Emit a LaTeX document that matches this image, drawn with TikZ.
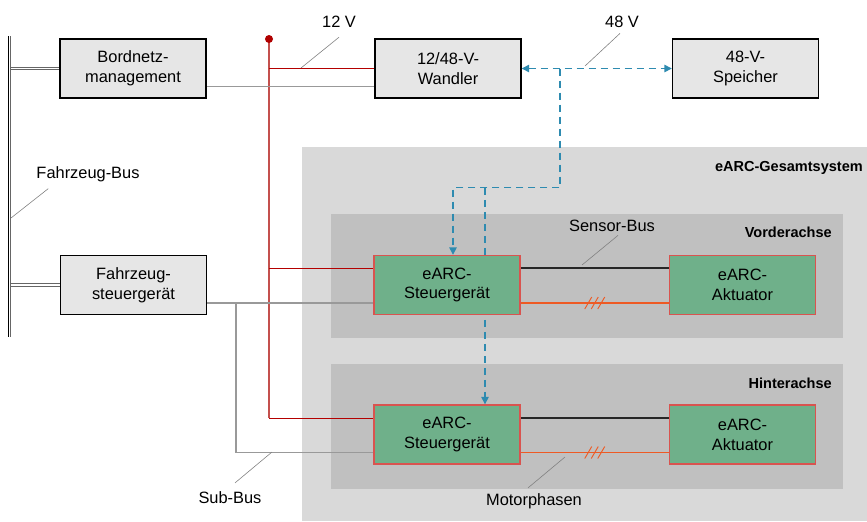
\documentclass[tikz,border=0pt]{standalone}
\usepackage{fontspec}
\setmainfont{Liberation Sans}
\usetikzlibrary{arrows.meta,calc,backgrounds}

\definecolor{boxgray}{HTML}{E6E6E6}
\definecolor{sysgray}{HTML}{D9D9D9}
\definecolor{axlegray}{HTML}{C0C0C0}
\definecolor{ecugreen}{HTML}{6FB08A}
\definecolor{ecured}{HTML}{D9534F}
\definecolor{lvred}{HTML}{C4504D}
\definecolor{lvdark}{HTML}{B40000}
\definecolor{dotred}{HTML}{B00000}
\definecolor{phaseor}{HTML}{EE5A24}
\definecolor{hvblue}{HTML}{2E8BB0}
\definecolor{busgray}{HTML}{999999}
\definecolor{leadgray}{HTML}{808080}

\tikzset{
  box/.style={draw=black, line width=1.2pt, fill=boxgray, minimum width=4.38cm,
    minimum height=1.77cm, inner sep=0pt, align=center,
    font=\fontsize{14}{17}\selectfont},
  ecu/.style={box, draw=ecured, fill=ecugreen},
  lbl/.style={anchor=base, inner sep=0pt, font=\fontsize{14}{17}\selectfont},
  area/.style={anchor=base east, inner sep=0pt, font=\bfseries\fontsize{12.4}{15}\selectfont},
  busa/.style={black, line width=0.7pt},
  busb/.style={black!60, line width=0.7pt},
  subline/.style={busgray, line width=1pt},
  lvline/.style={lvred, line width=1.2pt},
  lvhline/.style={lvdark, line width=0.8pt},
  sensline/.style={black!85, line width=1.1pt},
  phaseline/.style={phaseor, line width=1.1pt},
  hvline/.style={hvblue, line width=1.1pt, dash pattern=on 2.1mm off 1.5mm},
  hvtip/.style={-{Triangle[length=2.2mm,width=2.2mm]}},
  leader/.style={leadgray, line width=0.5pt},
}

\begin{document}
\begin{tikzpicture}[x=0.03cm,y=-0.03cm]
\useasboundingbox (0,0) rectangle (867,521);

% Bordnetz
\node (bnm) at (133,68.5) [box] {Bordnetz-\\management};
\node (wdl) at (448,68.5) [box] {12/48-V-\\Wandler};
\node (spk) at (745.5,68.5) [box] {48-V-\\Speicher};
\node (fsg) at (133.5,285) [box] {Fahrzeug-\\steuergerät};

% eARC
\node (vsg) at (447,285) [ecu] {eARC-\\Steuergerät};
\node (vakt) at (742.5,285) [ecu] {eARC-\\Aktuator};
\node (hsg) at (447,434.5) [ecu] {eARC-\\Steuergerät};
\node (hakt) at (742.5,434.5) [ecu] {eARC-\\Aktuator};

% Beschriftungen
\node (v12) at (339,27) [lbl] {12 V};
\node (v48) at (622,27) [lbl] {48 V};
\node (fbus) at (88,178) [lbl] {Fahrzeug-Bus};
\node (sbus) at (612,231) [lbl] {Sensor-Bus};
\node (mph) at (534,505) [lbl] {Motorphasen};
\node (subbus) at (230,503) [lbl] {Sub-Bus};
\node (gsys) at (863,171) [area] {eARC-Gesamtsystem};
\node (vach) at (832,237) [area] {Vorderachse};
\node (hach) at (832,388) [area] {Hinterachse};

\begin{scope}[on background layer]
% Systemgrenzen
\fill[sysgray] (302,147) rectangle (867,521);
\fill[axlegray] (331,214) rectangle (843,338);
\fill[axlegray] (331,364) rectangle (843,489);

% Fahrzeug-Bus
\coordinate (bustop) at (8,36);
\coordinate (busbot) at (8,337);
\draw[busa] (bustop) -- (busbot);
\draw[busb] ($(bustop)+(2.6,0)$) -- ($(busbot)+(2.6,0)$);
\foreach \n in {bnm,fsg} {
  \draw[busb] ($(\n.west -| busbot)+(2.6,-1.3)$) -- ($(\n.west)+(0,-1.3)$);
  \draw[busb] ($(\n.west -| busbot)+(2.6,1.3)$) -- ($(\n.west)+(0,1.3)$);
}

% 12 V
\coordinate (kl) at (269,39);
\path ($(vsg.west)+(0,-17)$) coordinate (r1);
\path ($(hsg.west)+(0,-16.5)$) coordinate (r2);
\draw[lvline] (kl) -- (r2 -| kl);
\draw[lvhline] (kl |- wdl.west) -- (wdl.west);
\draw[lvhline] (r1 -| kl) -- (r1);
\draw[lvhline] (r2 -| kl) -- (r2);
\fill[dotred] (kl) circle (4);

% Sub-Bus
\coordinate (sb) at (236,303);
\draw[subline] ($(bnm.east)+(0,18)$) -- ($(wdl.west)+(0,18)$);
\draw[subline] ($(fsg.east)+(0,18)$) -- ($(vsg.west)+(0,18)$);
\draw[subline] (sb) |- ($(hsg.west)+(0,18)$);

% Sensor-Bus und Motorphasen
\draw[sensline] ($(vsg.east)+(0,-17)$) -- ($(vakt.west)+(0,-17)$);
\draw[sensline] ($(hsg.east)+(0,-16.5)$) -- ($(hakt.west)+(0,-16.5)$);
\draw[phaseline] ($(vsg.east)+(0,18)$) -- ($(vakt.west)+(0,18)$);
\draw[phaseline] ($(hsg.east)+(0,18)$) -- ($(hakt.west)+(0,18)$);
\path ($(vsg.east)!0.5!(vakt.west)+(0,18)$) coordinate (ph1);
\path ($(hsg.east)!0.5!(hakt.west)+(0,18)$) coordinate (ph2);
\foreach \p in {ph1,ph2}
  \foreach \dx in {-6.5,0,6.5}
    \draw[phaseor, line width=0.8pt] ($(\p)+(\dx-3.5,6)$) -- ($(\p)+(\dx+3.5,-6)$);

% 48 V
\coordinate (t48) at (560,68.5);
\draw[hvline, {Triangle[length=2.2mm,width=2.2mm]}-{Triangle[length=2.2mm,width=2.2mm]}] (wdl.east) -- (spk.west);
\draw[hvline, hvtip] (t48) |- ($(vsg.north)+(6,-67)$) -- ($(vsg.north)+(6,0)$);
\draw[hvline, hvtip] ($(vsg.north)+(38,-67)$) -- ($(hsg.north)+(38,0)$);

% Hinweislinien
\coordinate (l12) at (301,68);
\coordinate (l48) at (585,66);
\coordinate (lfb) at (11,218);
\coordinate (lsb) at (582,265);
\coordinate (lmp) at (565,457);
\coordinate (lsub) at (272,452);
\draw[leader] (l12) -- ($(v12.south)+(0,10)$);
\draw[leader] (l48) -- ($(v48.south)+(-2,6)$);
\draw[leader] (lfb) -- ($(fbus.south west)+(12,7)$);
\draw[leader] (lsb) -- ($(sbus.south)+(6,4)$);
\draw[leader] (lmp) -- ($(mph.north)+(-6,-5)$);
\draw[leader] (lsub) -- ($(subbus.north)+(5,-8)$);
\end{scope}
\end{tikzpicture}
\end{document}
